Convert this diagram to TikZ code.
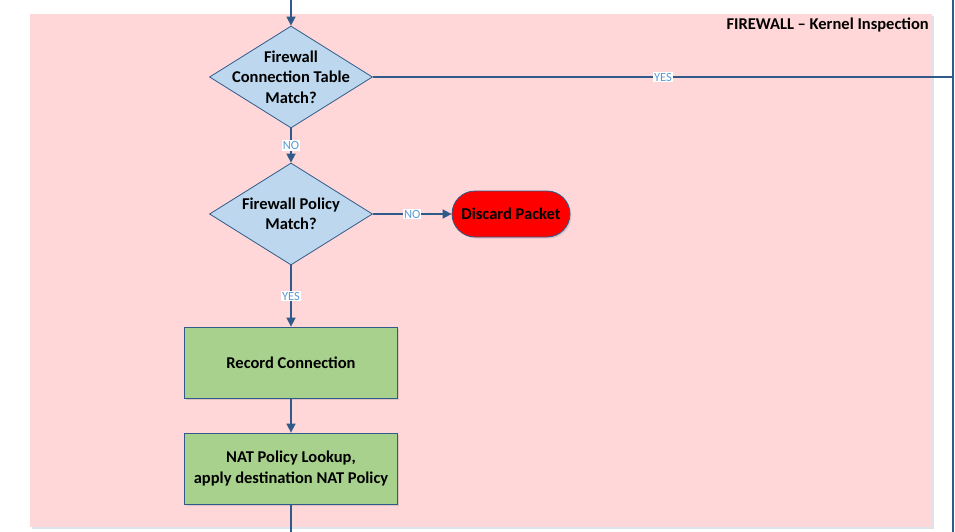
\documentclass[tikz,border=0pt]{standalone}
\usepackage{fontspec}
\setmainfont{Carlito}
\usetikzlibrary{arrows.meta,shapes.geometric,shadows}
\definecolor{pinkbg}{HTML}{FFD7D8}
\definecolor{linec}{HTML}{2F5A8A}
\definecolor{bluefill}{HTML}{BDD7EE}
\definecolor{greenfill}{HTML}{A9D18E}
\definecolor{labelc}{HTML}{5B9BD5}
\definecolor{shadowc}{HTML}{C8D3E0}
\tikzset{
  conn/.style={draw=linec, line width=1.6pt},
  arr/.style={conn, -{Triangle[length=9pt,width=9pt]}},
  dia/.style={shape=diamond, draw=linec, line width=0.8pt, fill=bluefill, minimum width=163pt, minimum height=102pt, inner sep=0pt, aspect=1.6},
  boxtext/.style={font=\bfseries\fontsize{16.5}{20.5}\selectfont, align=center, text=black},
  procbox/.style={rectangle, draw=linec, line width=0.8pt, fill=greenfill, minimum width=213pt, minimum height=71pt, inner sep=0pt, boxtext, drop shadow={opacity=0.25, shadow xshift=1.5pt, shadow yshift=-1.5pt}},
  endbox/.style={rectangle, rounded corners=23pt, draw=linec, line width=0.8pt, fill=red, minimum width=118pt, minimum height=46pt, inner sep=0pt, boxtext, drop shadow={opacity=0.25, shadow xshift=1.5pt, shadow yshift=-1.5pt}},
  lbl/.style={fill=white, text=labelc, font=\fontsize{12.5}{13}\selectfont, inner sep=1pt}
}
\begin{document}
\begin{tikzpicture}[x=1pt,y=-1pt]
\useasboundingbox (0,0) rectangle (955,532);
% region
\fill[shadowc!60] (32,16) rectangle (934,529);
\fill[pinkbg] (30,14) rectangle (932,527);
\node[anchor=north east, boxtext, inner sep=0pt] (title) at (929,18) {FIREWALL – Kernel Inspection};
% nodes
\node[dia, label={[boxtext]center:Firewall\\Connection Table\\Match?}] (d1) at (291,77) {};
\node[dia, label={[boxtext]center:Firewall Policy\\Match?}] (d2) at (291,214) {};
\node[endbox] (disc) at (511,214) {Discard Packet};
\node[procbox] (rec) at (291,362.5) {Record Connection};
\node[procbox] (nat) at (291,468.5) {NAT Policy Lookup,\\apply destination NAT Policy};
\coordinate (top) at (291,0);
\coordinate (bot) at (291,532);
\coordinate (rtop) at (953,0);
\coordinate (rbot) at (953,532);
\coordinate (ryes) at (953,77);
% connectors
\draw[conn] (rtop) -- (rbot);
\draw[arr] (top) -- (d1.north);
\draw[conn] (d1.east) -- node[lbl] {YES} (ryes);
\draw[arr] (d1.south) -- node[lbl] {NO} (d2.north);
\draw[arr] (d2.east) -- node[lbl] {NO} (disc.west);
\draw[arr] (d2.south) -- node[lbl] {YES} (rec.north);
\draw[arr] (rec.south) -- (nat.north);
\draw[conn] (nat.south) -- (bot);
\end{tikzpicture}
\end{document}
